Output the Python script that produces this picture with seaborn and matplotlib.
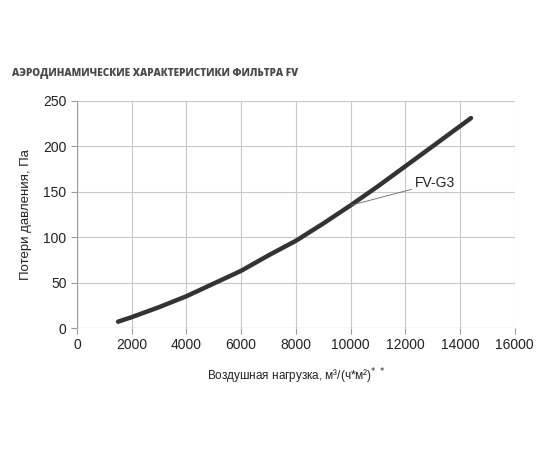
import pandas as pd
import matplotlib.pyplot as plt
import seaborn as sns

# air load, m3/(h*m2) and pressure drop, Pa
air_load = [1500, 2000, 3000, 4000, 5000, 6000, 7000, 8000, 9000, 10000, 11000, 12000, 13000, 14400]
pressure = [7, 12, 23, 35, 49, 63, 80, 96, 115, 135, 156, 178, 200, 231]
x_ticks = [0, 2000, 4000, 6000, 8000, 10000, 12000, 14000, 16000]
y_ticks = [0, 50, 100, 150, 200, 250]

df = pd.DataFrame({"load": air_load, "dp": pressure})

sns.set_style("white")
plt.rcParams["font.family"] = ["Liberation Sans", "DejaVu Sans"]

fig = plt.figure(figsize=(5.5, 4.5), dpi=100)
ax = fig.add_axes([0.14, 0.271, 0.796, 0.505])

sns.lineplot(data=df, x="load", y="dp", ax=ax, color="#333333", linewidth=3.2)

ax.set_xlim(0, 16000)
ax.set_ylim(0, 250)
ax.set_xticks(x_ticks)
ax.set_yticks(y_ticks)
ax.grid(True, color="#c8c8c8", linewidth=0.8)
for s in ax.spines.values():
    s.set_visible(False)
ax.axhline(0, color="#999999", linewidth=0.8)
ax.axvline(0, color="#999999", linewidth=0.8)
ax.tick_params(axis="both", labelsize=10, colors="#222222", length=4, width=0.8,
               direction="out", bottom=True, left=True, color="#999999")

ax.set_ylabel("Потери давления, Па", fontsize=9.5, color="#222222", labelpad=8)
ax.set_xlabel("Воздушная нагрузка, м³/(ч*м²)$^{*\\ *}$", fontsize=8.5, color="#222222", labelpad=10)

ax.annotate("FV-G3", xy=(10000, 135), xytext=(12350, 152), fontsize=10, color="#222222",
            ha="left", va="bottom",
            arrowprops=dict(arrowstyle="-", color="#666666", linewidth=0.6,
                            shrinkA=0, shrinkB=0, relpos=(0, 0.1)))

fig.text(0.022, 0.832, "АЭРОДИНАМИЧЕСКИЕ ХАРАКТЕРИСТИКИ ФИЛЬТРА FV", fontsize=7.2,
         fontweight="heavy", color="#4a4a4a", family=["Open Sans", "DejaVu Sans"])

plt.savefig("out.png", dpi=100)
plt.close()
